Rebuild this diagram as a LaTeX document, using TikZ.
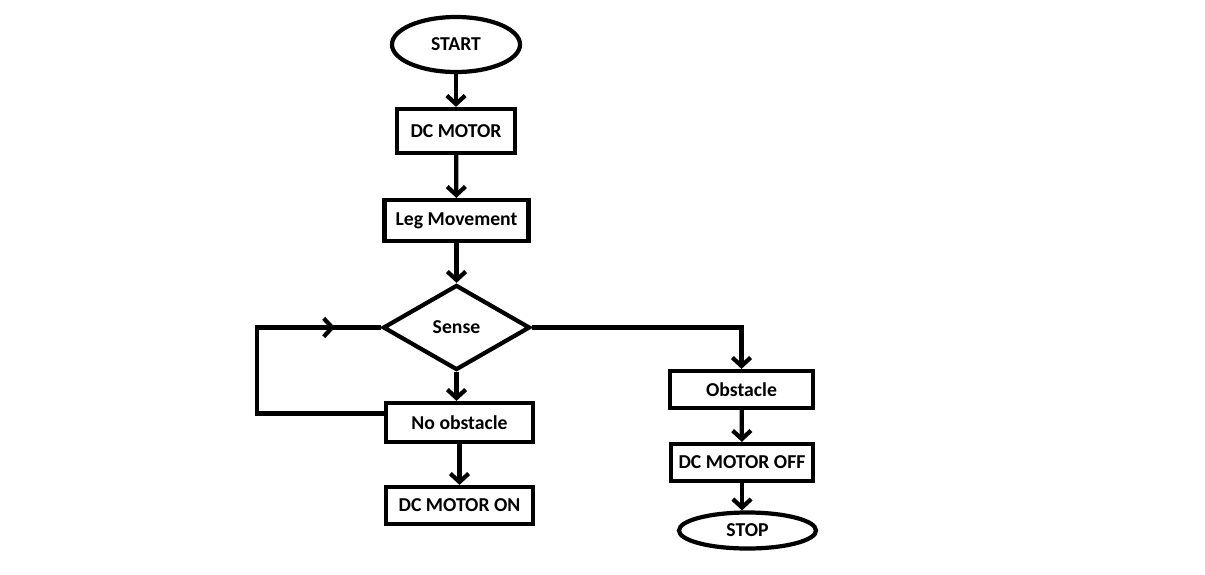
\documentclass[tikz,border=0pt]{standalone}
\usepackage{fontspec}
\setmainfont{Carlito}
\usetikzlibrary{shapes.geometric,arrows.meta,calc}

\begin{document}
\begin{tikzpicture}[x=0.025cm,y=-0.025cm,line width=3pt,
    every node/.style={draw,font=\fontsize{14}{16}\selectfont\bfseries,inner sep=2pt},
    box/.style={rectangle},
    term/.style={ellipse},
    arr/.style={-{Straight Barb[length=6pt,width=13pt]}}]
        \useasboundingbox (0,0) rectangle (1205,574);
        \node[term,minimum width=3.2cm,minimum height=1.375cm] (start) at (456,44.5) {START};
        \node[box,minimum width=2.95cm,minimum height=1.1cm] (motor) at (456,131) {DC MOTOR};
        \node[box,minimum width=3.6cm,minimum height=1.025cm] (leg) at (456.5,220.5) {Leg Movement};
        \node[diamond,minimum width=3.675cm,minimum height=2.125cm,inner sep=0] (sense) at (456.5,327.5) {Sense};
        \node[box,minimum width=3.675cm,minimum height=0.975cm] (noobs) at (459.5,422.5) {No obstacle};
        \node[box,minimum width=3.675cm,minimum height=0.925cm] (on) at (459.5,505.5) {DC MOTOR ON};
        \node[box,minimum width=3.575cm,minimum height=0.925cm] (obs) at (741.5,389.5) {Obstacle};
        \node[box,minimum width=3.55cm,minimum height=0.925cm] (off) at (742,462.5) {DC MOTOR OFF};
        \node[term,minimum width=3.425cm,minimum height=0.9cm] (stop) at (747.5,530.5) {STOP};
        \coordinate (loop) at (257,370);
        \draw[arr] (start) -- (motor);
        \draw[arr] (motor) -- (leg);
        \draw[arr] (leg.south) -- (sense.north);
        \draw[arr] (sense.south) -- (sense.south |- noobs.north);
        \draw[arr] (noobs) -- (on);
        \draw[arr] (sense.east) -| (obs.north);
        \draw[arr] (obs) -- (off);
        \draw[arr] (off.south) -- (off.south |- stop.north);
        \draw ([yshift=0.225cm]noobs.west) -| (loop) |- (sense.west);
        \draw[arr] (loop |- sense.west) -- ($(loop |- sense.west)!0.63!(sense.west)$);
      \end{tikzpicture}
\end{document}
